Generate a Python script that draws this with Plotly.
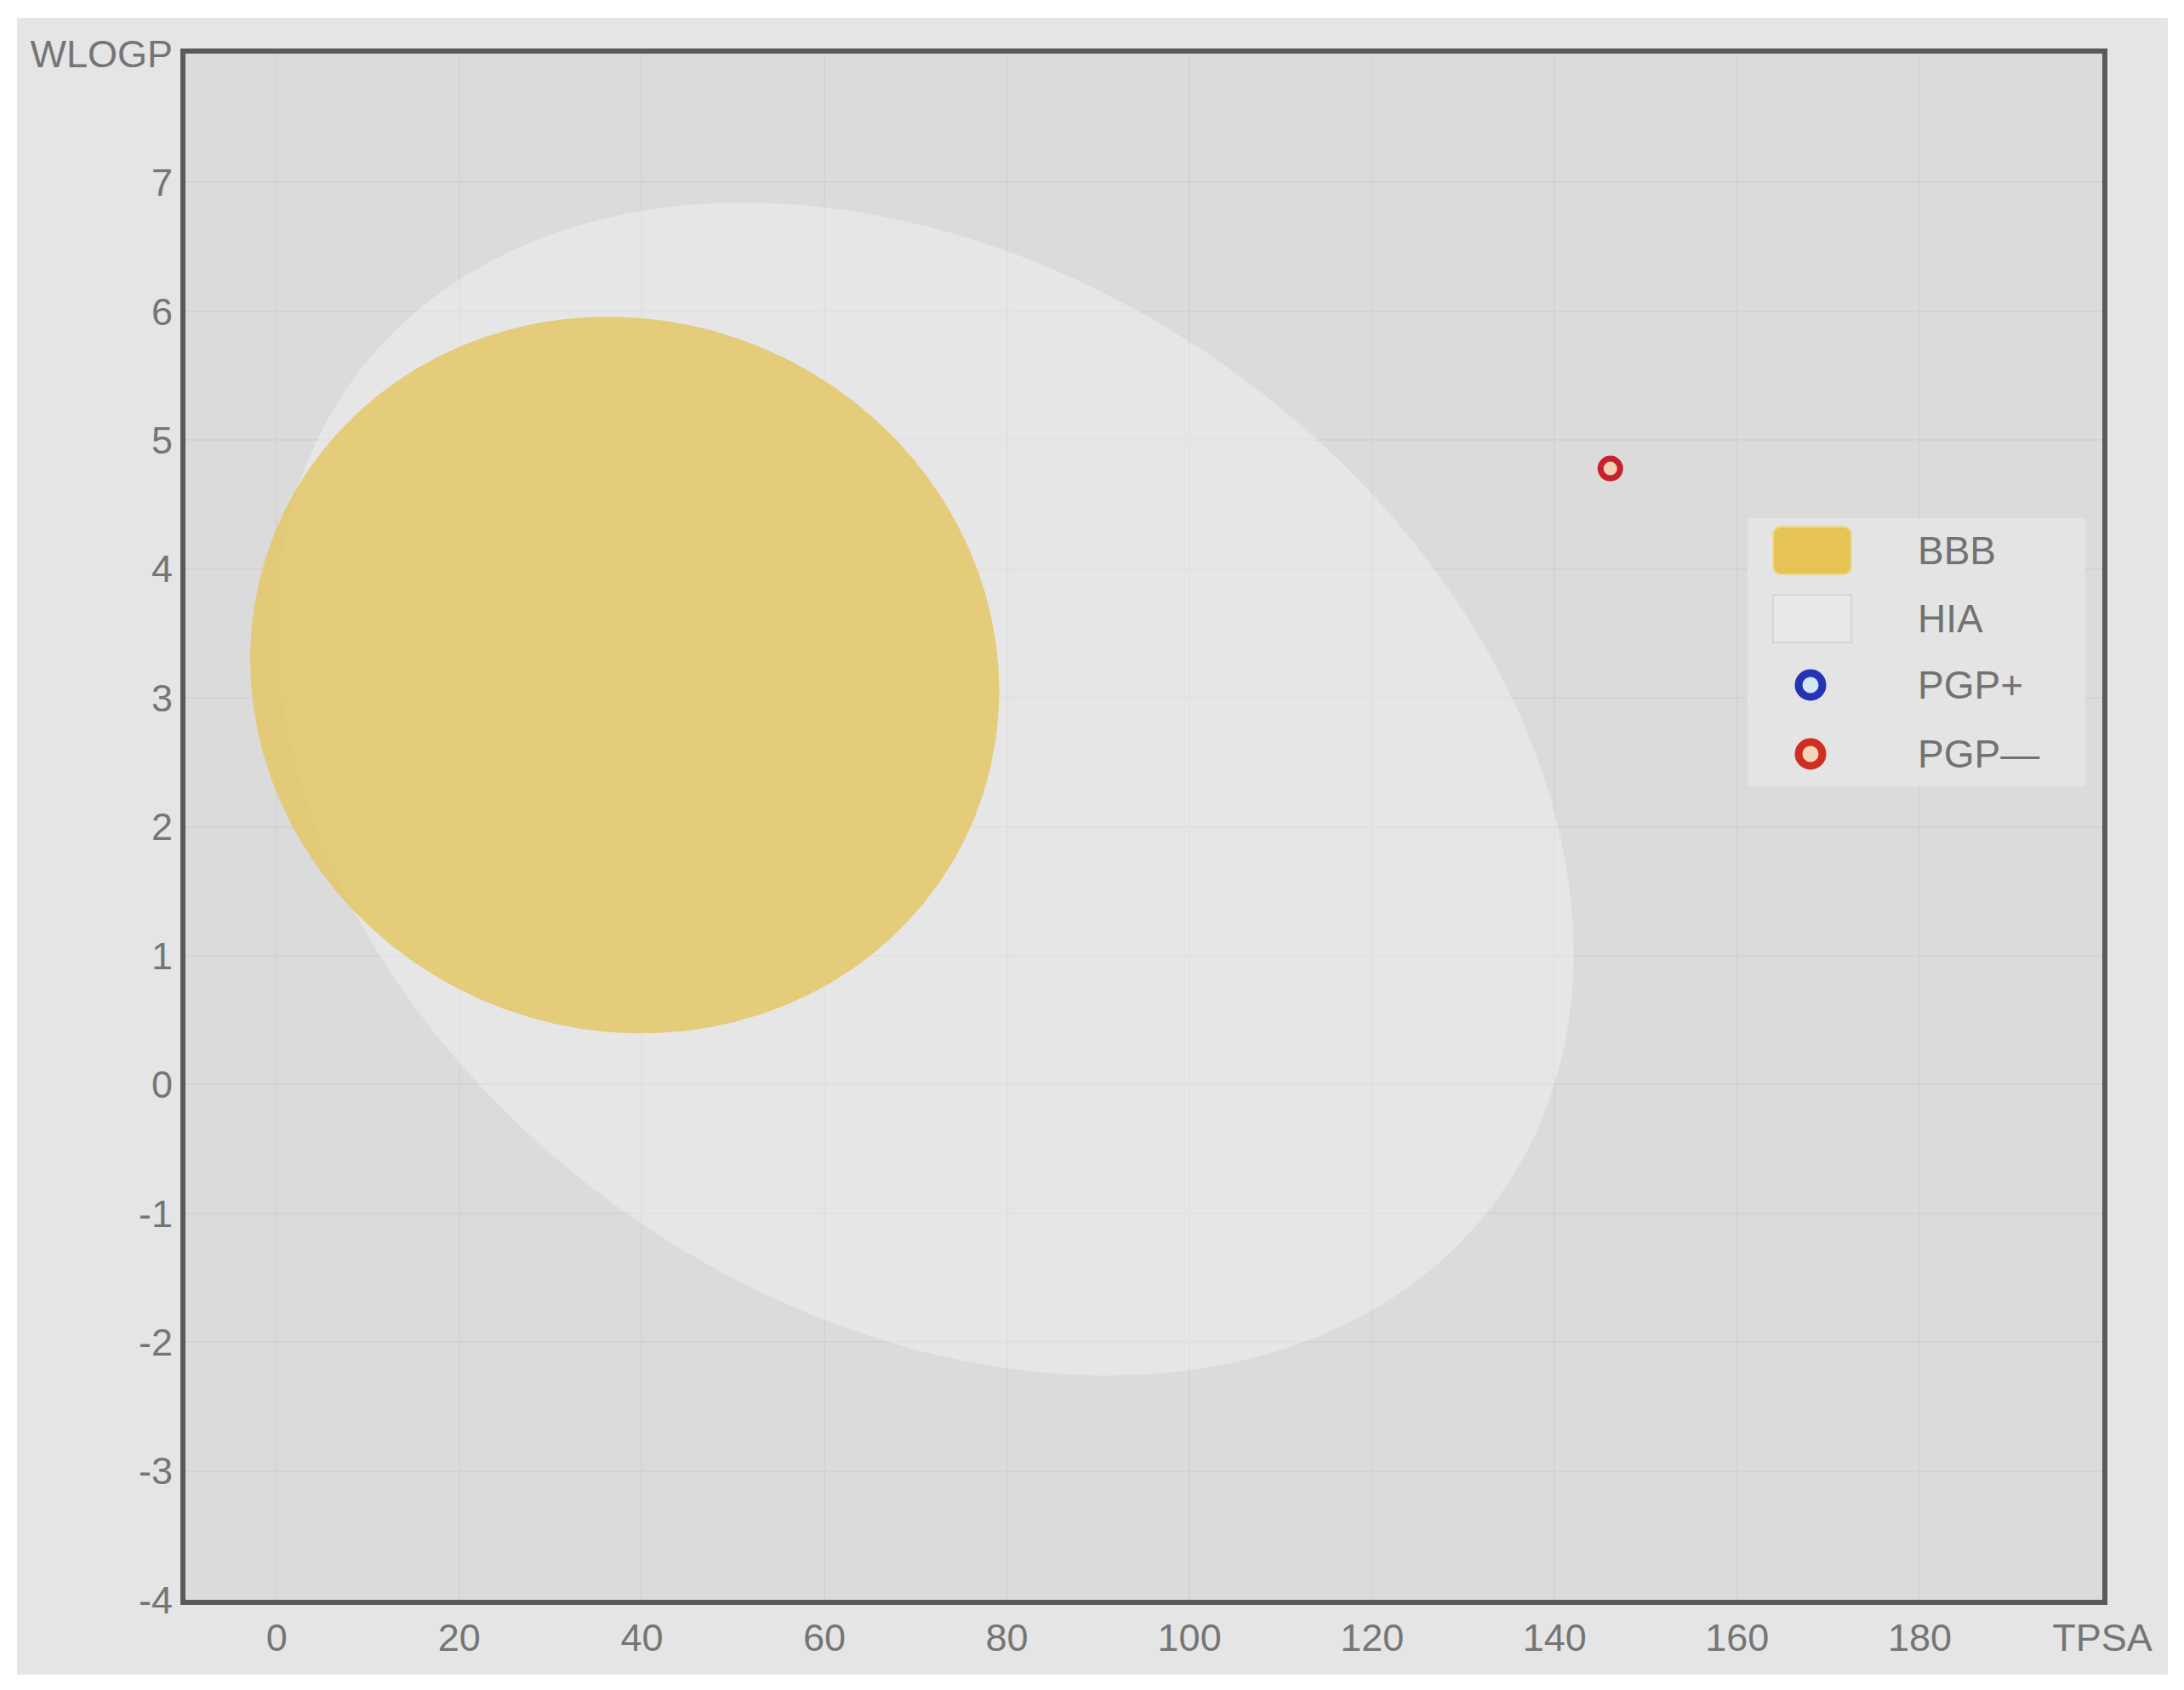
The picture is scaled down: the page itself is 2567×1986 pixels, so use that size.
import numpy as np
import plotly.graph_objects as go

# ---------------- data ----------------
x_tick_vals = [0, 20, 40, 60, 80, 100, 120, 140, 160, 180, 200]
x_tick_text = ["0", "20", "40", "60", "80", "100", "120", "140", "160", "180", "TPSA"]
y_tick_vals = [-4, -3, -2, -1, 0, 1, 2, 3, 4, 5, 6, 7, 8]
y_tick_text = ["-4", "-3", "-2", "-1", "0", "1", "2", "3", "4", "5", "6", "7", "WLOGP"]

# ellipse regions (TPSA, WLOGP): centre, semi-axes, rotation (deg)
region_names = ["HIA", "BBB"]
region_cx = [71.051, 38.117]
region_cy = [2.292, 3.177]
region_a = [71.0405, 41.0305]
region_b = [4.370, 2.7785]
region_angle_deg = [-1.031325, -0.171887]

# molecule(s)
mol_tpsa = [146.1]
mol_wlogp = [4.78]
mol_pgp = ["PGP-"]

# ---------------- figure geometry ----------------
W, H = 2567, 1986
ML, MR, MT, MB = 218, 96, 63, 106
PW, PH = W - ML - MR, H - MT - MB


def px(xp):
    return (xp - ML) / PW


def py(yp):
    return (H - MB - yp) / PH


fig = go.Figure()

fills = {"HIA": "rgba(255,255,255,0.32)", "BBB": "rgba(228,199,104,0.86)"}
t = np.linspace(0, 2 * np.pi, 721)
for name, cx, cy, a, b, ang in zip(region_names, region_cx, region_cy,
                                   region_a, region_b, region_angle_deg):
    th = np.deg2rad(ang)
    ex = cx + a * np.cos(t) * np.cos(th) - b * np.sin(t) * np.sin(th)
    ey = cy + a * np.cos(t) * np.sin(th) + b * np.sin(t) * np.cos(th)
    fig.add_trace(go.Scatter(x=ex, y=ey, mode="lines", fill="toself",
                             fillcolor=fills[name], line=dict(width=0),
                             name=name, showlegend=False, hoverinfo="skip"))

fig.add_trace(go.Scatter(
    x=mol_tpsa, y=mol_wlogp, mode="markers", name="PGP—", showlegend=False,
    marker=dict(size=23, color="#f3d2b2", line=dict(color="#c91f2e", width=7))))

# ---------------- background / frame shapes ----------------
shapes = [
    dict(type="rect", xref="paper", yref="paper", x0=px(20), x1=px(2548),
         y0=py(1968), y1=py(21), fillcolor="#e5e5e5", line=dict(width=0),
         layer="below"),
    dict(type="rect", xref="paper", yref="paper", x0=0, x1=1, y0=0, y1=1,
         fillcolor="#dbdbdb", line=dict(width=0), layer="below"),
]

# ---------------- manual legend ----------------
LB = dict(x0=2054, x1=2451, y0=609, y1=924)
shapes.append(dict(type="rect", xref="paper", yref="paper",
                   x0=px(LB["x0"]), x1=px(LB["x1"]), y0=py(LB["y1"]), y1=py(LB["y0"]),
                   fillcolor="#e4e4e4", line=dict(width=0), layer="above"))


def rounded_rect(x0, y0, x1, y1, r):
    pts = []
    for (cxp, cyp, a0) in [(x1 - r, y0 + r, -90), (x1 - r, y1 - r, 0),
                           (x0 + r, y1 - r, 90), (x0 + r, y0 + r, 180)]:
        for k in range(0, 91, 15):
            ang = np.deg2rad(a0 + k)
            pts.append((px(cxp + r * np.cos(ang)), py(cyp + r * np.sin(ang))))
    return "M " + " L ".join(f"{a:.5f},{b:.5f}" for a, b in pts) + " Z"


shapes.append(dict(type="path", xref="paper", yref="paper",
                   path=rounded_rect(2084, 619, 2176, 675, 9),
                   fillcolor="#e5c455", line=dict(color="#ecd89a", width=2),
                   layer="above"))
shapes.append(dict(type="rect", xref="paper", yref="paper",
                   x0=px(2084), x1=px(2176), y0=py(755), y1=py(699),
                   fillcolor="#e8e8e8", line=dict(color="#d6d6d6", width=2),
                   layer="above"))
for (cyc, lc, fc) in [(805, "#2534b5", "#cfe6f5"), (886, "#cf2f22", "#f6d6b6")]:
    r = 14
    shapes.append(dict(type="circle", xref="paper", yref="paper",
                       x0=px(2128 - r), x1=px(2128 + r), y0=py(cyc + r), y1=py(cyc - r),
                       fillcolor=fc, line=dict(color=lc, width=9), layer="above"))

legend_labels = ["BBB", "HIA", "PGP+", "PGP—"]
legend_y = [647, 727, 805, 886]
annotations = []
for lab, yy in zip(legend_labels, legend_y):
    annotations.append(dict(text=lab, xref="paper", yref="paper", x=px(2252), y=py(yy),
                            xanchor="left", yanchor="middle", showarrow=False,
                            font=dict(family="Liberation Sans, Arial", size=46, color="#727272")))

axis_common = dict(showline=True, linecolor="#5a5a5a", linewidth=6, mirror=True,
                   showgrid=True, gridcolor="#d3d3d3", gridwidth=2, zeroline=False,
                   ticks="", tickfont=dict(family="Liberation Sans, Arial", size=45,
                                           color="#757575"))

fig.update_layout(
    width=W, height=H,
    margin=dict(l=ML, r=MR, t=MT, b=MB, pad=0),
    paper_bgcolor="white", plot_bgcolor="rgba(0,0,0,0)",
    showlegend=False,
    shapes=shapes, annotations=annotations,
    xaxis=dict(range=[-10, 200], tickmode="array", tickvals=x_tick_vals,
               ticktext=x_tick_text, **axis_common),
    yaxis=dict(range=[-4, 8], tickmode="array", tickvals=y_tick_vals,
               ticktext=y_tick_text, **axis_common),
)

fig.write_html("out.html", config={"displayModeBar": False},
               post_script="document.body.style.margin='0';document.documentElement.style.overflow='hidden';")
